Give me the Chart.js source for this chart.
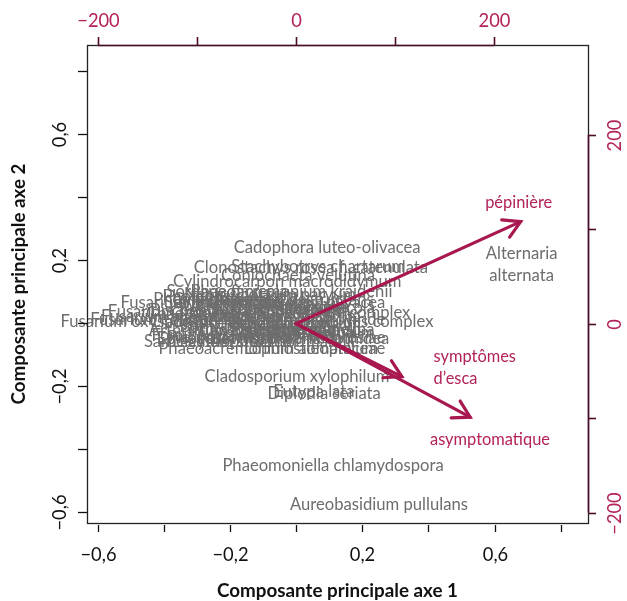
<!DOCTYPE html>
<html>
<head>
<meta charset="utf-8">
<script src="https://cdn.jsdelivr.net/npm/chart.js@4/dist/chart.umd.min.js"></script>
<style>
html, body { margin: 0; padding: 0; background: #fff; }
</style>
</head>
<body>
<canvas id="myChart" width="627" height="601"></canvas>
<script>
// species scores (axes 1 and 2)
const speciesNames = [
    'Fusarium oxysporum', 'Fusarium solani', 'Fusarium proliferatum', 'Fusarium equiseti', 'Fusarium avenaceum',
    'Phoma glomerata', 'Phomopsis viticola', 'Sordaria fimicola', 'Phaeoacremonium krajdenii', 'Neofusicoccum parvum',
    'Cladosporium cladosporioides complex', 'Cladosporium herbarum complex', 'Epicoccum nigrum', 'Botryosphaeria dothidea',
    'Phaeoacremonium aleophilum', 'Lophiostomataceae', 'Penicillium sp.', 'Trichoderma atroviride', 'Botrytis cinerea',
    'Pestalotiopsis sp.', 'Truncatella angustata', 'Nigrospora oryzae', 'Acremonium sp.', 'Biscogniauxia mediterranea',
    'Cryptovalsa ampelina', 'Fomitiporia mediterranea', 'Stereum hirsutum', 'Ilyonectria liriodendri',
    'Cylindrocarpon destructans', 'Diaporthe ampelina', 'Chaetomium globosum', 'Sarocladium strictum', 'Ulocladium atrum',
    'Cadophora malorum', 'Lecythophora hoffmannii', 'Pleurostomophora richardsiae', 'Arthrinium phaeospermum',
    'Dothiorella viticola', 'Seimatosporium vitis', 'Aspergillus niger', 'Alternaria infectoria', 'Microsphaeropsis olivacea',
    'Cadophora luteo-olivacea', 'Clonostachys rosea f. catenulata', 'Stachybotrys chartarum', 'Coniochaeta velutina',
    'Cylindrocarpon macrodidymum', 'Cladosporium xylophilum', 'Eutypa lata', 'Diplodia seriata',
    'Phaeomoniella chlamydospora', 'Aureobasidium pullulans', 'Alternaria\nalternata'
]
const pc1 = [
    -0.485, -0.40, -0.29, -0.43, -0.36,
    -0.24, -0.20, -0.21, -0.015, -0.08,
    -0.015, -0.02, -0.22, 0.01,
    -0.085, 0.055, -0.05, 0.02, -0.18,
    -0.12, -0.10, -0.05, 0.03, -0.14,
    -0.06, -0.16, 0.04, -0.12,
    -0.07, 0.02, -0.20, -0.23, 0.0,
    -0.03, -0.10, -0.06, -0.15,
    0.03, -0.17, -0.02, -0.09, -0.02,
    0.093, 0.044, 0.066, 0.005,
    -0.028, 0.002, 0.053, 0.084,
    0.111, 0.25, 0.682
]
const pc2 = [
    0.006, 0.038, 0.066, 0.012, 0.02,
    0.076, 0.085, 0.10, 0.10, 0.09,
    0.006, 0.035, -0.05, -0.05,
    -0.08, -0.08, 0.0, 0.01, -0.01,
    0.02, -0.02, 0.05, -0.02, 0.04,
    -0.03, -0.04, -0.03, 0.06,
    0.075, -0.02, 0.03, -0.06, 0.0,
    0.02, -0.06, -0.045, -0.025,
    0.05, 0.065, 0.045, 0.0, 0.065,
    0.241, 0.177, 0.18, 0.152,
    0.133, -0.168, -0.216, -0.225,
    -0.453, -0.577, 0.187
]

// variable loadings (top / right scales)
const variableNames = ['pépinière', 'symptômes\nd’esca', 'asymptomatique']
const loading1 = [227, 107, 176]
const loading2 = [108, -56, -99]
const labelPos1 = [225, 139, 196]
const labelPos2 = [128, -47, -123]
const labelAlign = ['center', 'left', 'center']

const scoreTicks = [-0.6, -0.4, -0.2, 0, 0.2, 0.4, 0.6, 0.8]
const scoreTickLabels = ['−0,6', '', '−0,2', '', '0,2', '', '0,6', '']
const loadTicks = [-200, -100, 0, 100, 200]
const loadTickLabels = ['−200', '', '0', '', '200']

const GREY = '#6d6d6d'
const CRIMSON = '#a8174f'
const CRIMSON_TXT = '#b3225a'
const MAROON = '#4b0d2b'
const FONT = 'Lato, "Open Sans", sans-serif'

const speciesData = speciesNames.map((n, i) => ({ x: pc1[i], y: pc2[i], name: n }))
const arrowSets = variableNames.map((n, i) => ({
    label: n,
    type: 'line',
    xAxisID: 'x2',
    yAxisID: 'y2',
    data: [{ x: 0, y: 0 }, { x: loading1[i], y: loading2[i] }],
    borderColor: CRIMSON,
    borderWidth: 3.2,
    borderCapStyle: 'round',
    pointRadius: 0,
    fill: false
}))

function fitFont(ctx, text, width, weight) {
    let size = 16
    ctx.font = `${weight || ''} ${size}px ${FONT}`
    const w = ctx.measureText(text).width
    return size * width / w
}

const biplotPlugin = {
    id: 'biplot',
    beforeDatasetsDraw(chart) {
        const ctx = chart.ctx
        const xs = chart.scales.x, ys = chart.scales.y
        const size = fitFont(ctx, 'Aureobasidium pullulans', 178)
        ctx.save()
        ctx.font = `${size}px ${FONT}`
        ctx.fillStyle = GREY
        ctx.textAlign = 'center'
        ctx.textBaseline = 'middle'
        speciesData.forEach(d => {
            const lines = d.name.split('\n')
            const px = xs.getPixelForValue(d.x), py = ys.getPixelForValue(d.y)
            const lh = 22
            lines.forEach((l, k) => {
                ctx.fillText(l, px, py + (k - (lines.length - 1) / 2) * lh)
            })
        })
        ctx.restore()
    },
    afterDatasetsDraw(chart) {
        const ctx = chart.ctx
        const x2 = chart.scales.x2, y2 = chart.scales.y2
        ctx.save()
        // arrow heads
        ctx.strokeStyle = CRIMSON
        ctx.lineWidth = 3.2
        ctx.lineCap = 'round'
        variableNames.forEach((n, i) => {
            const ox = x2.getPixelForValue(0), oy = y2.getPixelForValue(0)
            const tx = x2.getPixelForValue(loading1[i]), ty = y2.getPixelForValue(loading2[i])
            const ang = Math.atan2(ty - oy, tx - ox)
            const len = 19
            ctx.beginPath()
            ctx.moveTo(tx - len * Math.cos(ang - Math.PI / 6), ty - len * Math.sin(ang - Math.PI / 6))
            ctx.lineTo(tx, ty)
            ctx.lineTo(tx - len * Math.cos(ang + Math.PI / 6), ty - len * Math.sin(ang + Math.PI / 6))
            ctx.stroke()
        })
        // variable labels
        const size = fitFont(ctx, 'asymptomatique', 120)
        ctx.font = `${size}px ${FONT}`
        ctx.fillStyle = CRIMSON_TXT
        ctx.textBaseline = 'middle'
        variableNames.forEach((n, i) => {
            const lines = n.split('\n')
            const px = x2.getPixelForValue(labelPos1[i]), py = y2.getPixelForValue(labelPos2[i])
            ctx.textAlign = labelAlign[i]
            lines.forEach((l, k) => {
                ctx.fillText(l, px, py + (k - (lines.length - 1) / 2) * 22)
            })
        })
        ctx.restore()
    },
    afterDraw(chart) {
        const ctx = chart.ctx
        const a = chart.chartArea
        const xs = chart.scales.x, ys = chart.scales.y
        const x2 = chart.scales.x2, y2 = chart.scales.y2
        ctx.save()
        // box
        ctx.strokeStyle = '#222'
        ctx.lineWidth = 1.3
        ctx.strokeRect(Math.round(a.left) + 0.5, Math.round(a.top) + 0.5, Math.round(a.right - a.left), Math.round(a.bottom - a.top))

        const tickFont = `${fitFont(ctx, '−0,6', 36)}px ${FONT}`
        // bottom axis
        ctx.strokeStyle = '#111'
        ctx.lineWidth = 1.3
        ctx.fillStyle = '#111'
        ctx.font = tickFont
        ctx.textAlign = 'center'
        ctx.textBaseline = 'middle'
        scoreTicks.forEach((v, i) => {
            const p = Math.round(xs.getPixelForValue(v)) + 0.5
            ctx.beginPath(); ctx.moveTo(p, a.bottom + 2); ctx.lineTo(p, a.bottom + 9); ctx.stroke()
            if (scoreTickLabels[i]) ctx.fillText(scoreTickLabels[i], p, 555)
        })
        // left axis
        scoreTicks.forEach((v, i) => {
            const p = Math.round(ys.getPixelForValue(v)) + 0.5
            ctx.beginPath(); ctx.moveTo(a.left - 9, p); ctx.lineTo(a.left, p); ctx.stroke()
            if (scoreTickLabels[i]) {
                ctx.save(); ctx.translate(60, p); ctx.rotate(-Math.PI / 2); ctx.fillText(scoreTickLabels[i], 0, 0); ctx.restore()
            }
        })
        // top axis
        ctx.strokeStyle = MAROON
        ctx.lineWidth = 1.6
        const tl = x2.getPixelForValue(-200), tr = x2.getPixelForValue(200)
        ctx.beginPath(); ctx.moveTo(tl, a.top + 0.5); ctx.lineTo(tr, a.top + 0.5); ctx.stroke()
        ctx.fillStyle = CRIMSON_TXT
        loadTicks.forEach((v, i) => {
            const p = Math.round(x2.getPixelForValue(v)) + 0.5
            ctx.beginPath(); ctx.moveTo(p, a.top - 8); ctx.lineTo(p, a.top); ctx.stroke()
            if (loadTickLabels[i]) ctx.fillText(loadTickLabels[i], p, 21)
        })
        // right axis
        const rt = y2.getPixelForValue(200), rb = y2.getPixelForValue(-200)
        ctx.beginPath(); ctx.moveTo(a.right + 0.5, rt); ctx.lineTo(a.right + 0.5, rb); ctx.stroke()
        loadTicks.forEach((v, i) => {
            const p = Math.round(y2.getPixelForValue(v)) + 0.5
            ctx.beginPath(); ctx.moveTo(a.right, p); ctx.lineTo(a.right + 8, p); ctx.stroke()
            if (loadTickLabels[i]) {
                ctx.save(); ctx.translate(615, p); ctx.rotate(-Math.PI / 2); ctx.fillText(loadTickLabels[i], 0, 0); ctx.restore()
            }
        })
        // axis titles
        ctx.fillStyle = '#111'
        const titleSize = fitFont(ctx, 'Composante principale axe 1', 241, 'bold')
        ctx.font = `bold ${titleSize}px ${FONT}`
        ctx.fillText('Composante principale axe 1', (a.left + a.right) / 2, 591)
        ctx.save(); ctx.translate(19, (a.top + a.bottom) / 2); ctx.rotate(-Math.PI / 2)
        ctx.fillText('Composante principale axe 2', 0, 0); ctx.restore()
        ctx.restore()
    }
}

const hiddenAxis = (pos, min, max) => ({
    type: 'linear',
    position: pos,
    min: min,
    max: max,
    grid: { display: false },
    border: { display: false },
    ticks: { display: false },
    afterFit: (s) => { if (pos === 'top' || pos === 'bottom') s.height = 0; else s.width = 0 }
})

const ctx = document.getElementById('myChart').getContext('2d')
const myChart = new Chart(ctx, {
    type: 'scatter',
    data: {
        datasets: [{
            label: 'espèces',
            data: speciesData,
            pointRadius: 0,
            xAxisID: 'x',
            yAxisID: 'y'
        }, ...arrowSets]
    },
    options: {
        responsive: false,
        animation: false,
        devicePixelRatio: 1,
        layout: { padding: { left: 87, right: 39, top: 45, bottom: 78 } },
        plugins: { legend: { display: false }, tooltip: { enabled: false } },
        scales: {
            x: hiddenAxis('bottom', -0.634, 0.883),
            y: hiddenAxis('left', -0.634, 0.883),
            x2: hiddenAxis('top', -211, 295),
            y2: hiddenAxis('right', -211, 295)
        }
    },
    plugins: [biplotPlugin]
})
</script>
</body>
</html>
